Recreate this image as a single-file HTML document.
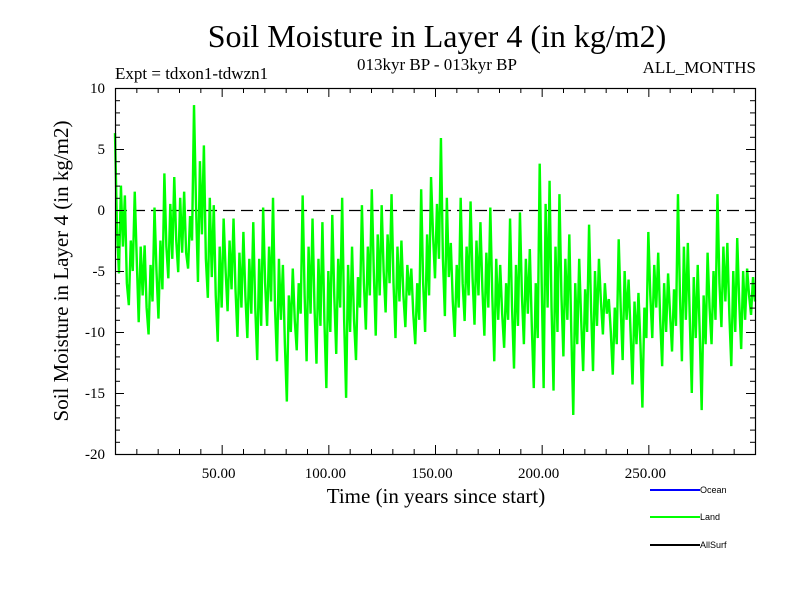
<!DOCTYPE html>
<html><head><meta charset="utf-8"><style>
body{margin:0;background:#fff;}
svg text{font-family:"Liberation Serif",serif;}
</style></head><body>
<svg id="chart" width="800" height="600" xmlns="http://www.w3.org/2000/svg">
<rect x="0" y="0" width="800" height="600" fill="#fff"/>
<text x="437" y="47" font-size="32" text-anchor="middle">Soil Moisture in Layer 4 (in kg/m2)</text>
<text x="437" y="70" font-size="17" text-anchor="middle">013kyr BP - 013kyr BP</text>
<text x="115" y="79" font-size="17">Expt = tdxon1-tdwzn1</text>
<text x="756" y="73" font-size="17" text-anchor="end">ALL_MONTHS</text>
<text transform="translate(68,271) rotate(-90)" font-size="21" text-anchor="middle">Soil Moisture in Layer 4 (in kg/m2)</text>
<text x="436" y="503" font-size="21" text-anchor="middle">Time (in years since start)</text>
<g id="plot"></g>
<g>
<line x1="650" y1="490" x2="700" y2="490" stroke="#0000ff" stroke-width="2"/>
<text x="700" y="493" font-size="9" style="font-family:'Liberation Sans',sans-serif">Ocean</text>
<line x1="650" y1="517" x2="700" y2="517" stroke="#00ff00" stroke-width="2"/>
<text x="700" y="520" font-size="9" style="font-family:'Liberation Sans',sans-serif">Land</text>
<line x1="650" y1="545" x2="700" y2="545" stroke="#000" stroke-width="2"/>
<text x="700" y="548" font-size="9" style="font-family:'Liberation Sans',sans-serif">AllSurf</text>
</g>
</svg>
<script>
const xTicks = [50, 100, 150, 200, 250];
const xTickLabels = ["50.00", "100.00", "150.00", "200.00", "250.00"];
const yTicks = [10, 5, 0, -5, -10, -15, -20];
const yTickLabels = ["10", "5", "0", "-5", "-10", "-15", "-20"];
const xDomain = [0, 300];
const yDomain = [-20, 10];
const landValues = [
6.3,-1.5,-5.2,2.0,-3.0, 1.2,-6.0,-7.8,-2.5,-5.0, 1.5,-4.0,-9.2,-3.0,-7.0, -2.9,-8.0,-10.2,-4.5,-7.5,
0.2,-5.0,-8.9,-2.5,-6.5, 3.0,-3.0,-5.6,0.5,-4.0, 2.7,-2.5,-5.1,1.0,-3.5, 1.5,-3.5,-4.8,-0.5,-2.5,
8.6,0.5,-5.9,4.0,-2.0, 5.3,-4.0,-7.2,1.0,-5.5, 0.4,-7.0,-10.8,-3.0,-8.0, -0.7,-5.0,-8.3,-2.5,-6.5,
-0.7,-6.5,-10.4,-3.5,-8.0, -1.8,-7.0,-10.5,-4.0,-8.5, -1.0,-8.0,-12.3,-4.0,-9.5, 0.2,-6.0,-9.5,-3.0,-7.5,
1.0,-8.0,-12.4,-4.0,-9.0, -4.5,-11.0,-15.7,-7.0,-10.0, -4.8,-9.0,-11.5,-6.0,-8.5, 1.2,-7.0,-12.4,-3.0,-8.5,
-0.7,-8.0,-12.6,-4.0,-9.5, -1.0,-9.0,-14.6,-5.0,-10.0, -0.4,-7.0,-11.8,-4.0,-8.0, 1.0,-9.0,-15.4,-4.5,-10.0,
-3.0,-9.0,-12.3,-5.5,-8.0, 0.4,-6.0,-9.8,-3.0,-7.0, 1.7,-5.0,-10.3,-2.0,-7.0, 0.4,-5.0,-8.4,-2.0,-6.0,
1.3,-6.0,-10.5,-3.0,-7.5, -2.5,-7.0,-9.6,-4.5,-7.0, -4.8,-8.5,-11.0,-6.0,-9.0, 1.7,-6.0,-10.0,-2.0,-7.0,
2.7,-2.0,-5.6,0.5,-4.0, 5.9,-4.0,-8.7,1.0,-5.5, -2.7,-7.5,-10.4,-4.5,-8.0, 1.0,-6.0,-9.1,-3.0,-7.0,
0.7,-5.5,-9.4,-2.5,-7.0, -1.0,-6.5,-10.3,-3.5,-8.0, 0.2,-7.0,-12.4,-4.0,-9.0, -4.5,-8.5,-11.3,-6.0,-9.0,
-0.7,-8.0,-13.0,-4.5,-9.5, -0.2,-7.0,-11.0,-4.0,-8.5, -3.2,-9.5,-14.6,-6.0,-10.5, 3.8,-6.0,-14.6,0.5,-8.0,
2.4,-8.0,-14.8,-3.0,-10.0, 1.3,-7.0,-12.0,-4.0,-9.0, -2.0,-10.0,-16.8,-6.0,-11.0, -4.0,-9.0,-13.2,-6.5,-10.0,
-1.2,-8.0,-13.2,-5.0,-9.5, -4.0,-7.5,-10.2,-6.0,-8.5, -7.3,-10.0,-13.5,-8.0,-11.0, -2.4,-8.0,-12.3,-5.0,-9.0,
-5.7,-10.0,-14.3,-7.5,-11.0, -6.8,-11.0,-16.2,-8.0,-10.5, -1.8,-7.0,-10.5,-4.5,-8.0, -3.5,-9.0,-12.8,-6.0,-10.0,
-5.2,-8.5,-11.6,-6.5,-9.5, 1.3,-7.0,-12.4,-3.0,-9.0, -2.7,-9.0,-15.0,-5.5,-10.5, -4.5,-10.0,-16.4,-7.0,-11.0,
-3.5,-8.0,-11.0,-5.0,-9.0, 1.3,-6.0,-9.6,-3.0,-7.5, -2.7,-8.5,-12.8,-5.0,-10.0, -2.3,-7.5,-11.4,-5.0,-9.0,
-4.8,-7.0,-8.6,-5.5,-7.5
];

const L = 115, R = 755, T = 88, B = 454;
const NS = "http://www.w3.org/2000/svg";
const g = document.getElementById('plot');
function xs(v){ return L + (v - xDomain[0]) / (xDomain[1] - xDomain[0]) * (R - L); }
function ys(v){ return B - (v - yDomain[0]) / (yDomain[1] - yDomain[0]) * (B - T); }
function mk(tag, attrs){ const e = document.createElementNS(NS, tag); for (const k in attrs) e.setAttribute(k, attrs[k]); g.appendChild(e); return e; }

const zl = mk('line', {x1: L, x2: R, y1: ys(0) + 0.5, y2: ys(0) + 0.5, stroke: '#000', 'stroke-width': 1.2, 'stroke-dasharray': '12,6'});



const n = landValues.length;
let d = '';
landValues.forEach((v, i) => {
  const t = xDomain[0] + i * (xDomain[1] - xDomain[0]) / (n - 1);
  d += (i ? 'L' : 'M') + xs(t).toFixed(2) + ',' + ys(v).toFixed(2);
});
const p = mk('path', {d: d, fill: 'none', stroke: '#00ff00', 'stroke-width': 2.4, 'stroke-linejoin': 'miter'});



const fr = mk('rect', {x: L + 0.5, y: T + 0.5, width: R - L, height: B - T, fill: 'none', stroke: '#000', 'stroke-width': 1.2});



for (let v = yDomain[0]; v <= yDomain[1]; v++) {
  const major = v % 5 === 0;
  const len = major ? 9 : 5;
  const y = ys(v) + 0.5;
  const a = mk('line', {x1: L, x2: L + len, y1: y, y2: y, stroke: '#000', 'stroke-width': 1});
  
  
  const b = mk('line', {x1: R, x2: R - len, y1: y, y2: y, stroke: '#000', 'stroke-width': 1});
  
  
}
yTicks.forEach((v, i) => {
  const t = mk('text', {x: 105, y: ys(v) + 5, 'font-size': 15, 'text-anchor': 'end'});
  t.textContent = yTickLabels[i];
  
  
});
for (let v = xDomain[0] + 10; v < xDomain[1]; v += 10) {
  const major = v % 50 === 0;
  const len = major ? 9 : 5;
  const x = xs(v) + 0.5;
  const a = mk('line', {x1: x, x2: x, y1: B, y2: B - len, stroke: '#000', 'stroke-width': 1});
  
  
  const b = mk('line', {x1: x, x2: x, y1: T, y2: T + len, stroke: '#000', 'stroke-width': 1});
  
  
}
xTicks.forEach((v, i) => {
  const t = mk('text', {x: xs(v) - 3, y: 478, 'font-size': 15, 'text-anchor': 'middle'});
  t.textContent = xTickLabels[i];
  
  
});
</script>
</body></html>
